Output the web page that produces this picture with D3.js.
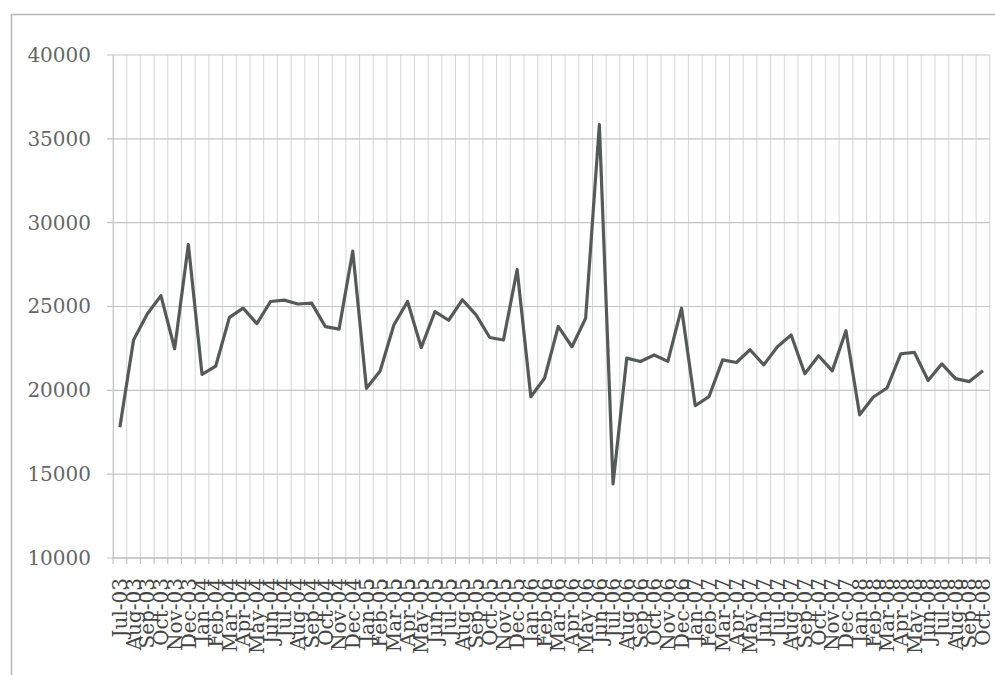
<!DOCTYPE html>
<html>
<head>
<meta charset="utf-8">
<script src="https://cdn.jsdelivr.net/npm/d3@7"></script>
<style>
  html, body { margin: 0; padding: 0; background: #fff; overflow: hidden; }
  svg { display: block; }
</style>
</head>
<body>
<svg id="chart"></svg>
<script>
// monthly categories, Jul-03 .. Oct-08
const months = [
  "Jul-03","Aug-03","Sep-03","Oct-03","Nov-03","Dec-03",
  "Jan-04","Feb-04","Mar-04","Apr-04","May-04","Jun-04","Jul-04","Aug-04","Sep-04","Oct-04","Nov-04","Dec-04",
  "Jan-05","Feb-05","Mar-05","Apr-05","May-05","Jun-05","Jul-05","Aug-05","Sep-05","Oct-05","Nov-05","Dec-05",
  "Jan-06","Feb-06","Mar-06","Apr-06","May-06","Jun-06","Jul-06","Aug-06","Sep-06","Oct-06","Nov-06","Dec-06",
  "Jan-07","Feb-07","Mar-07","Apr-07","May-07","Jun-07","Jul-07","Aug-07","Sep-07","Oct-07","Nov-07","Dec-07",
  "Jan-08","Feb-08","Mar-08","Apr-08","May-08","Jun-08","Jul-08","Aug-08","Sep-08","Oct-08"
]

const values = [
  17800, 23000, 24550, 25650, 22480, 28700,
  20950, 21450, 24350, 24900, 23980, 25300, 25380, 25150, 25200, 23800, 23650, 28300,
  20120, 21150, 23900, 25300, 22550, 24700, 24180, 25400, 24500, 23150, 23000, 27200,
  19620, 20720, 23820, 22600, 24300, 35850, 14420, 21920, 21720, 22110, 21730, 24900,
  19080, 19620, 21820, 21660, 22420, 21520, 22600, 23300, 20990, 22060, 21160, 23560,
  18540, 19600, 20140, 22180, 22260, 20590, 21580, 20700, 20520, 21170
]

const yTicks = [10000, 15000, 20000, 25000, 30000, 35000, 40000]

const W = 995, H = 675
const margin = { top: 55, left: 113 }
const band = 13.7
const plotW = band * months.length
const plotH = 503

const serif = "'DejaVu Serif', 'Liberation Serif', serif"

const svg = d3.select("#chart")
    .attr("width", W)
    .attr("height", H)

// outer chart frame (runs off the right and bottom of the picture)
svg.append("rect")
    .attr("x", 11.5).attr("y", 14.5)
    .attr("width", 1100).attr("height", 800)
    .attr("fill", "#fff")
    .attr("stroke", "#b4b4b4")
    .attr("stroke-width", 1.5)

const g = svg.append("g")
    .attr("transform", `translate(${margin.left}, ${margin.top})`)

const x = d3.scaleBand()
    .domain(months)
    .range([0, plotW])

const y = d3.scaleLinear()
    .domain([10000, 40000])
    .range([plotH, 0])

// vertical gridlines at category boundaries
const bounds = d3.range(months.length + 1).map(i => i * x.step())
g.append("g")
    .selectAll("line")
    .data(bounds)
    .enter()
    .append("line")
        .attr("x1", d => d).attr("x2", d => d)
        .attr("y1", 0).attr("y2", plotH)
        .attr("stroke", "#d6d6d6")
        .attr("stroke-width", 1)

// horizontal gridlines
g.append("g")
    .selectAll("line")
    .data(yTicks)
    .enter()
    .append("line")
        .attr("x1", -6).attr("x2", plotW)
        .attr("y1", d => y(d)).attr("y2", d => y(d))
        .attr("stroke", "#c4c4c4")
        .attr("stroke-width", 1.2)

// y axis
const yAxis = g.append("g")
    .call(d3.axisLeft(y).tickValues(yTicks).tickSize(0).tickPadding(22).tickFormat(d3.format("d")))
yAxis.select(".domain").attr("stroke", "#c4c4c4")
yAxis.selectAll("text")
    .attr("font-family", serif)
    .attr("font-size", "20px")
    .attr("fill", "#666")

// x axis line + tick marks at boundaries
g.append("line")
    .attr("x1", 0).attr("x2", plotW)
    .attr("y1", plotH).attr("y2", plotH)
    .attr("stroke", "#b8b8b8")
    .attr("stroke-width", 1.2)
g.append("g")
    .selectAll("line")
    .data(bounds)
    .enter()
    .append("line")
        .attr("x1", d => d).attr("x2", d => d)
        .attr("y1", plotH).attr("y2", plotH + 6)
        .attr("stroke", "#b8b8b8")

// rotated category labels
g.append("g")
    .selectAll("text")
    .data(months)
    .enter()
    .append("text")
        .attr("transform", d => `translate(${x(d) + x.bandwidth() / 2}, ${plotH + 20}) rotate(-90)`)
        .attr("dy", "0.36em")
        .attr("text-anchor", "end")
        .attr("font-family", serif)
        .attr("font-size", "20px")
        .attr("fill", "#444")
        .text(d => d)

// the series
const line = d3.line()
    .x((d, i) => x(months[i]) + x.bandwidth() / 2)
    .y(d => y(d))

g.append("path")
    .datum(values)
    .attr("d", line)
    .attr("fill", "none")
    .attr("stroke", "#555a58")
    .attr("stroke-width", 3.2)
    .attr("stroke-linejoin", "round")
</script>
</body>
</html>
